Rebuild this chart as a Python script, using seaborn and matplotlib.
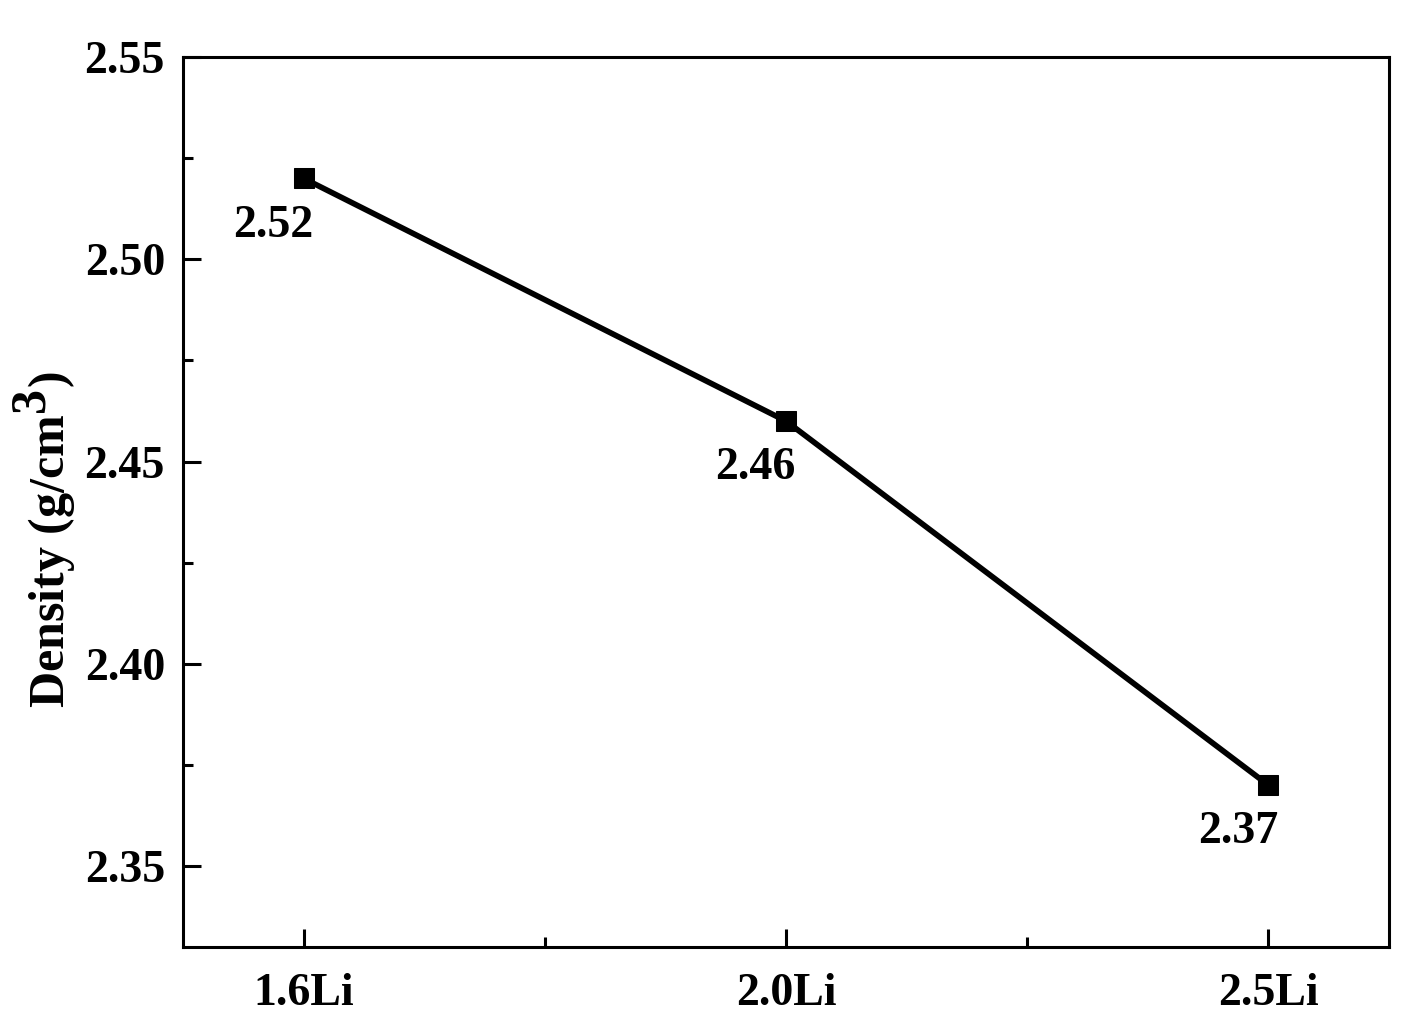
import matplotlib
matplotlib.use("Agg")
import matplotlib.pyplot as plt
import matplotlib._mathtext as _mt
import seaborn as sns
import pandas as pd
from matplotlib.ticker import MultipleLocator, FixedLocator

samples = ["1.6Li", "2.0Li", "2.5Li"]
density = [2.52, 2.46, 2.37]
labels = ["2.52", "2.46", "2.37"]

sns.set_theme(style="ticks")
plt.rcParams['font.family'] = ['Liberation Serif', 'DejaVu Serif']
plt.rcParams['font.weight'] = 'bold'
plt.rcParams['text.color'] = 'black'
plt.rcParams['axes.labelcolor'] = 'black'
plt.rcParams['xtick.color'] = 'black'
plt.rcParams['ytick.color'] = 'black'
plt.rcParams['mathtext.fontset'] = 'custom'
plt.rcParams['mathtext.bf'] = 'Liberation Serif:bold'
plt.rcParams['mathtext.rm'] = 'Liberation Serif:bold'
_mt.SHRINK_FACTOR = 1.0  # full-size superscript as in the reference

df = pd.DataFrame({"pos": range(len(samples)), "density": density})

fig = plt.figure(figsize=(14.16, 10.29), dpi=100)
ax = fig.add_axes([0.1292, 0.0797, 0.8518, 0.8649])
sns.lineplot(data=df, x="pos", y="density", ax=ax, color="black", linewidth=4.1,
             marker="s", markersize=14, markeredgecolor="black", markerfacecolor="black")

for i, (v, t) in enumerate(zip(density, labels)):
    ax.annotate(t, (i, v), xytext=(-22, -34), textcoords="offset points",
                ha="center", va="center", fontsize=33, fontweight="bold", color="black")

ax.set_xlim(-0.25, 2.25)
ax.set_ylim(2.33, 2.55)
ax.set_xticks(range(len(samples)))
ax.set_xticklabels(samples)
ax.xaxis.set_minor_locator(FixedLocator([0.5, 1.5]))
ax.yaxis.set_major_locator(MultipleLocator(0.05))
ax.yaxis.set_minor_locator(MultipleLocator(0.025))
ax.yaxis.set_major_formatter(matplotlib.ticker.FormatStrFormatter("%.2f"))

ax.tick_params(which="major", direction="in", length=13, width=2.2, labelsize=33,
               colors="black")
ax.tick_params(axis="x", which="major", pad=19)
ax.tick_params(axis="y", which="major", pad=13)
ax.tick_params(which="minor", direction="in", length=7, width=2.2, colors="black")
for lab in ax.get_xticklabels() + ax.get_yticklabels():
    lab.set_fontweight("bold")
for s in ax.spines.values():
    s.set_linewidth(2.2)
    s.set_color("black")

ax.set_xlabel("")
ax.set_ylabel("Density (g/cm$^\\mathbf{3}$)", fontsize=36, fontweight="bold",
              color="black")
ax.yaxis.set_label_coords(-0.087, 0.458)

fig.savefig("out.png", dpi=100)
